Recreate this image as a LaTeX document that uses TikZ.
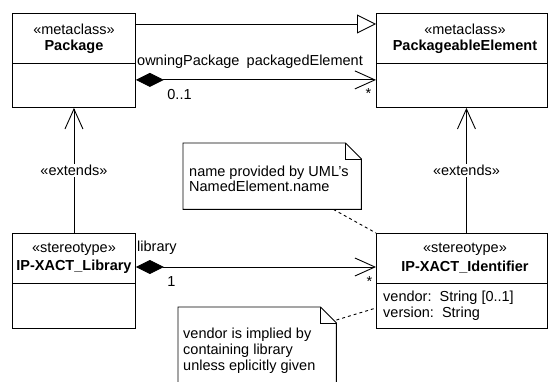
\documentclass[tikz,border=0pt]{standalone}
\usepackage{fontspec}
\setmainfont{Liberation Sans}
\usetikzlibrary{arrows.meta}

\tikzset{
  every node/.style={font=\fontsize{14.5}{16}\selectfont, inner sep=0pt},
  umlbox/.style={draw, line width=0.9pt, fill=white, anchor=north west},
  bold/.style={font=\fontsize{14.5}{16}\selectfont\bfseries},
  conn/.style={line width=0.9pt},
  opentip/.style={-{Straight Barb[length=20pt,width=18pt,line width=0.9pt]}},
  inherit/.style={-{Triangle[open,length=19pt,width=19pt,line width=0.9pt,fill=white]}},
  compose/.style={{Diamond[length=28pt,width=14pt]}-{Straight Barb[length=20pt,width=18pt,line width=0.9pt]}},
  notelink/.style={line width=0.9pt, dash pattern=on 3pt off 3pt},
  notebox/.style={anchor=north west},
  stereo/.style={fill=white, inner sep=1pt}
}

\begin{document}
\begin{tikzpicture}[x=1pt,y=-1pt]
  \clip (0,0) rectangle (548,382);
  \fill[white] (0,0) rectangle (548,382);

  % class boxes
  \node[umlbox, minimum width=123pt, minimum height=94pt] (pkg) at (12,13) {};
  \node[umlbox, minimum width=171pt, minimum height=94pt] (pe) at (376,13) {};
  \node[umlbox, minimum width=123pt, minimum height=95pt] (lib) at (12,233) {};
  \node[umlbox, minimum width=171pt, minimum height=95pt] (id) at (376,233) {};

  % compartment dividers
  \foreach \b in {pkg,pe,lib,id}
    \draw[conn] ([yshift=-50pt]\b.north west) -- ([yshift=-50pt]\b.north east);

  % class headers
  \node (pkgst) at ([yshift=-16pt]pkg.north) {«metaclass»};
  \node[bold] (pkgnm) at ([yshift=-33.5pt]pkg.north) {Package};
  \node (pest) at ([xshift=3pt,yshift=-16pt]pe.north) {«metaclass»};
  \node[bold] (penm) at ([xshift=3pt,yshift=-33.5pt]pe.north) {PackageableElement};
  \node (libst) at ([yshift=-16pt]lib.north) {«stereotype»};
  \node[bold] (libnm) at ([yshift=-34pt]lib.north) {IP-XACT\_Library};
  \node (idst) at ([xshift=3pt,yshift=-16pt]id.north) {«stereotype»};
  \node[bold] (idnm) at ([xshift=3pt,yshift=-34pt]id.north) {IP-XACT\_Identifier};

  % attributes
  \node[anchor=west] (attr1) at (383,298) {vendor:\ \ String [0..1]};
  \node[anchor=west] (attr2) at (383,314) {version:\ \ String};

  % generalization
  \draw[conn, inherit] ([yshift=-11pt]pkg.north east) -- ([yshift=-11pt]pe.north west);

  % composition Package -> PackageableElement
  \draw[conn, compose] ([yshift=28pt]pkg.south east) -- ([yshift=28pt]pe.south west);
  \node[anchor=west] (own) at (137,61.5) {owningPackage};
  \node[anchor=east] (pkd) at (363,61.5) {packagedElement};
  \node (m01) at (179.5,94.5) {0..1};
  \node (ms1) at (368.5,94) {*};

  % composition Library -> Identifier
  \draw[conn, compose] ([yshift=-34pt]lib.north east) -- ([yshift=-34pt]id.north west);
  \node[anchor=west] (libr) at (137,248) {library};
  \node (m1) at (171.5,282) {1};
  \node (ms2) at (369.5,282) {*};

  % extension arrows
  \draw[conn, opentip] (lib.north) -- node[stereo] (ext1) {«extends»} (pkg.south);
  \draw[conn, opentip] ([xshift=4.5pt]id.north) -- node[stereo] (ext2) {«extends»} ([xshift=4.5pt]pe.south);

  % note about the name
  \node[notebox, minimum width=178pt, minimum height=66pt] (n1) at (183,143) {};
  \draw[conn, fill=white] (n1.north west) -- ([xshift=-16pt]n1.north east)
    -- ([yshift=-16pt]n1.north east) -- (n1.south east) -- (n1.south west) -- cycle;
  \draw[conn] ([xshift=-16pt]n1.north east) -- ([xshift=-16pt,yshift=-16pt]n1.north east)
    -- ([yshift=-16pt]n1.north east);
  \node[anchor=west, align=left, font=\fontsize{14.5}{15}\selectfont] (n1t) at (189,179) {name provided by UML's\\NamedElement.name};
  \draw[notelink] ([xshift=-28pt]n1.south east) -- (id.north west);

  % note about the vendor
  \node[notebox, minimum width=158pt, minimum height=90pt] (n2) at (178,307) {};
  \draw[conn, fill=white] (n2.north west) -- ([xshift=-16pt]n2.north east)
    -- ([yshift=-16pt]n2.north east) -- (n2.south east) -- (n2.south west) -- cycle;
  \draw[conn] ([xshift=-16pt]n2.north east) -- ([xshift=-16pt,yshift=-16pt]n2.north east)
    -- ([yshift=-16pt]n2.north east);
  \node[anchor=west, align=left, font=\fontsize{14.5}{16}\selectfont] (n2t) at (183,351) {vendor is implied by\\containing library\\unless eplicitly given};
  \coordinate (idlink) at ([yshift=-75pt]id.north west);
  \draw[notelink] ([yshift=-13pt]n2.north east) -- (idlink);
\end{tikzpicture}
\end{document}
